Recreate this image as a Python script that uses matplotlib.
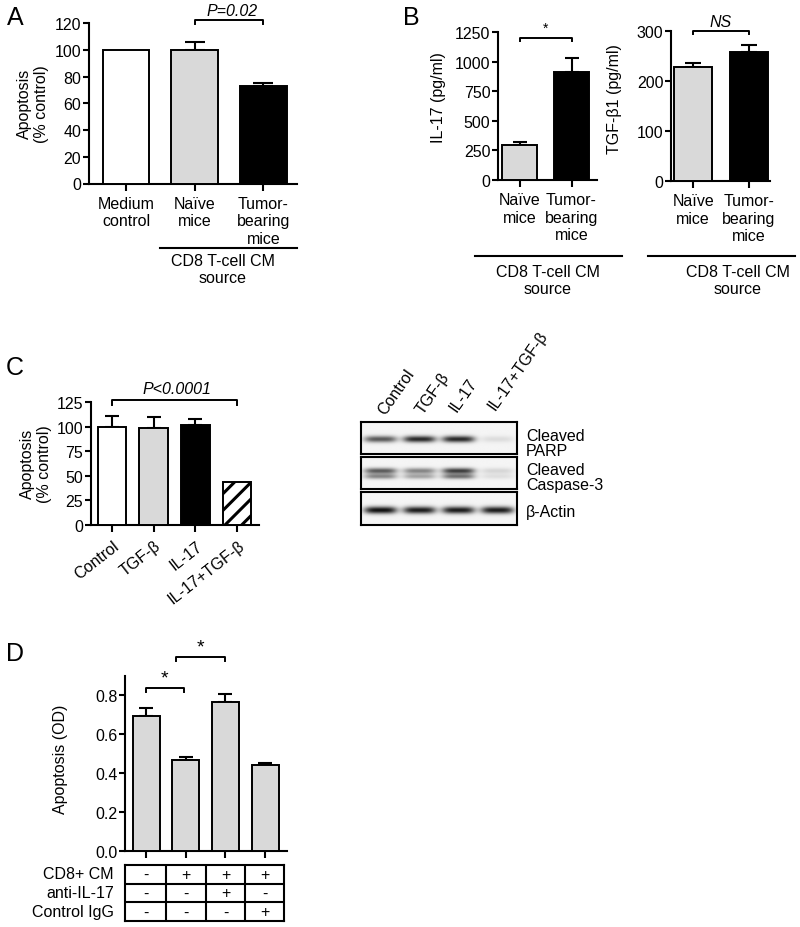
import numpy as np
import matplotlib
matplotlib.use('Agg')
import matplotlib.pyplot as plt
from matplotlib.transforms import ScaledTranslation

plt.rcParams['font.family'] = ['Liberation Sans', 'DejaVu Sans']
plt.rcParams['hatch.linewidth'] = 2.2

FS = 11.5

# ---------------- Data ----------------
a_categories = ['Medium\ncontrol', 'Naïve\nmice', 'Tumor-\nbearing\nmice']
a_values = [100, 100, 73]
a_errors = [0, 6, 2]

b_categories = ['Naïve\nmice', 'Tumor-\nbearing\nmice']
b_il17_values = [300, 910]
b_il17_errors = [20, 125]
b_tgf_values = [228, 258]
b_tgf_errors = [7, 13]

c_categories = ['Control', 'TGF-β', 'IL-17', 'IL-17+TGF-β']
c_values = [100, 99, 102, 44]
c_errors = [11, 11, 6, 0]

blot_lanes = ['Control', 'TGF-β', 'IL-17', 'IL-17+TGF-β']
blot_rows = ['Cleaved\nPARP', 'Cleaved\nCaspase-3', 'β-Actin']
parp_intensity = [0.65, 0.85, 0.85, 0.1]
casp3_intensity = [0.75, 0.55, 0.9, 0.15]
actin_intensity = [0.95, 0.9, 0.9, 0.9]

d_values = [0.692, 0.465, 0.766, 0.443]
d_errors = [0.043, 0.019, 0.041, 0.010]
d_row_labels = ['CD8+ CM', 'anti-IL-17', 'Control IgG']
d_table = [['-', '+', '+', '+'],
           ['-', '-', '+', '-'],
           ['-', '-', '-', '+']]

GRAY = '#d9d9d9'
W, H = 800, 928
fig = plt.figure(figsize=(8, 9.28), dpi=100)


def rect(l, t, r, b):
    return [l / W, 1 - b / H, (r - l) / W, (b - t) / H]


def ftext(x, y, s, **kw):
    kw.setdefault('fontsize', FS)
    kw.setdefault('ha', 'center')
    kw.setdefault('va', 'center')
    fig.text(x / W, 1 - y / H, s, **kw)


def fline(x0, x1, y, lw=1.5):
    fig.add_artist(plt.Line2D([x0 / W, x1 / W], [1 - y / H, 1 - y / H],
                              color='black', lw=lw))


def style(ax):
    for s in ['top', 'right']:
        ax.spines[s].set_visible(False)
    for s in ['left', 'bottom']:
        ax.spines[s].set_linewidth(1.5)
    ax.tick_params(axis='both', width=1.5, length=4, labelsize=FS, pad=1.5)
    ax.tick_params(axis='x', length=5, pad=4)


def bars(ax, values, errors, colors, capsize, hatches=None):
    x = np.arange(len(values))
    bs = ax.bar(x, values, width=0.68, color=colors, edgecolor='black',
                linewidth=1.4, zorder=3)
    if hatches:
        for b, h in zip(bs, hatches):
            if h:
                b.set_hatch(h)
    for xi, v, e in zip(x, values, errors):
        if e > 0:
            ax.errorbar([xi], [v], yerr=[[0], [e]], fmt='none', ecolor='black',
                        elinewidth=1.5, capsize=capsize, capthick=1.5, zorder=2)


def bracket(ax, x0, x1, y, drop):
    ax.plot([x0, x0, x1, x1], [y - drop, y, y, y - drop], color='black',
            lw=1.4, clip_on=False, zorder=4)


# ---------------- Panel A ----------------
axA = fig.add_axes(rect(89, 24, 297, 184.5))
style(axA)
bars(axA, a_values, a_errors, ['white', GRAY, 'black'], capsize=7)
axA.set_xlim(-0.54, 2.49)
axA.set_ylim(0, 120)
axA.set_yticks(range(0, 121, 20))
axA.set_xticks(range(3))
axA.set_xticklabels(a_categories, fontsize=FS)
bracket(axA, 1, 2, 122, 3)
axA.text(1.55, 123.5, 'P=0.02', style='italic', ha='center', va='bottom', fontsize=FS)
ftext(15, 18, 'A', fontsize=18)
ftext(33, 104, 'Apoptosis\n(% control)', rotation=90)
fline(160, 297, 249)
ftext(223, 270, 'CD8 T-cell CM\nsource')

# ---------------- Panel B ----------------
axB1 = fig.add_axes(rect(498, 33.3, 597, 181))
style(axB1)
bars(axB1, b_il17_values, b_il17_errors, [GRAY, 'black'], capsize=5)
axB1.set_xlim(-0.415, 1.49)
axB1.set_ylim(0, 1250)
axB1.set_yticks(range(0, 1251, 250))
axB1.set_xticks(range(2))
axB1.set_xticklabels(b_categories, fontsize=FS)
bracket(axB1, 0, 1, 1205, 30)
axB1.text(0.5, 1230, '*', ha='center', va='bottom', fontsize=10)
ftext(439, 98, 'IL-17 (pg/ml)', rotation=90)

axB2 = fig.add_axes(rect(671, 31.7, 770, 181.7))
style(axB2)
bars(axB2, b_tgf_values, b_tgf_errors, [GRAY, 'black'], capsize=6)
axB2.set_xlim(-0.4, 1.38)
axB2.set_ylim(0, 300)
axB2.set_yticks([0, 100, 200, 300])
axB2.set_xticks(range(2))
axB2.set_xticklabels(b_categories, fontsize=FS)
bracket(axB2, 0, 1, 300, 7)
axB2.text(0.5, 304, 'NS', style='italic', ha='center', va='bottom', fontsize=FS)
ftext(615, 99, 'TGF-β1 (pg/ml)', rotation=90)
ftext(411, 18, 'B', fontsize=18)
fline(475, 622, 257)
fline(648, 795, 257)
ftext(548, 281, 'CD8 T-cell CM\nsource')
ftext(738, 281, 'CD8 T-cell CM\nsource')

# ---------------- Panel C ----------------
axC = fig.add_axes(rect(91, 403.3, 259, 526))
style(axC)
bars(axC, c_values, c_errors, ['white', GRAY, 'black', 'white'], capsize=5,
     hatches=[None, None, None, '//'])
axC.set_xlim(-0.5, 3.52)
axC.set_ylim(0, 125)
axC.set_yticks(range(0, 126, 25))
axC.set_xticks(range(4))
axC.set_xticklabels(c_categories, fontsize=FS, rotation=38, ha='right',
                    va='center', rotation_mode='anchor')
off = ScaledTranslation(5 / 100, -6 / 100, fig.dpi_scale_trans)
for lab in axC.get_xticklabels():
    lab.set_transform(lab.get_transform() + off)
bracket(axC, 0, 3, 127.6, 5)
axC.text(1.55, 131, 'P<0.0001', style='italic', ha='center', va='bottom', fontsize=FS)
ftext(15, 368, 'C', fontsize=18)
ftext(36, 464, 'Apoptosis\n(% control)', rotation=90)

# ---------------- Western blot ----------------
xx = np.linspace(0, 4, 400)
yy = np.linspace(0, 1, 80)
XX, YY = np.meshgrid(xx, yy)


def lane_profile(intens):
    p = np.zeros_like(XX)
    for i, a in enumerate(intens):
        p += a * np.exp(-(np.abs(XX - (i + 0.5)) / 0.42) ** 4)
    return p


profiles = [
    lane_profile(parp_intensity) * np.exp(-((YY - 0.55) / 0.1) ** 2),
    lane_profile(casp3_intensity) * (0.85 * np.exp(-((YY - 0.45) / 0.09) ** 2)
                                     + 0.6 * np.exp(-((YY - 0.62) / 0.08) ** 2)),
    lane_profile(actin_intensity) * np.exp(-((YY - 0.55) / 0.11) ** 2),
]
boxes = [(422.7, 455), (457.7, 490), (493.3, 526)]
label_y = [444, 478, 512]
for prof, (t, b), lab, ly in zip(profiles, boxes, blot_rows, label_y):
    axw = fig.add_axes(rect(360.7, t, 516.7, b))
    img = np.clip(0.96 - 0.95 * prof, 0, 1)
    axw.imshow(img, cmap='gray', vmin=0, vmax=1, aspect='auto',
               extent=[0, 4, 1, 0], interpolation='bilinear')
    axw.set_xticks([])
    axw.set_yticks([])
    for s in axw.spines.values():
        s.set_linewidth(1.5)
    ftext(526, ly, lab, ha='left', fontsize=FS, linespacing=1.05)

lane_pos = [(385, 416), (423, 415), (457, 413), (495, 411)]
for (lx, ly), lab in zip(lane_pos, blot_lanes):
    ftext(lx, ly, lab, rotation=55, rotation_mode='anchor', ha='left',
          va='baseline', fontsize=FS)

# ---------------- Panel D ----------------
axD = fig.add_axes(rect(125, 676.9, 287.3, 851.7))
style(axD)
bars(axD, d_values, d_errors, [GRAY] * 4, capsize=5)
axD.set_xlim(-0.53, 3.56)
axD.set_ylim(0, 0.9)
axD.set_yticks([0, 0.2, 0.4, 0.6, 0.8])
axD.set_yticklabels(['0.0', '0.2', '0.4', '0.6', '0.8'])
axD.set_xticks(range(4))
axD.set_xticklabels([])
bracket(axD, 0, 0.95, 0.836, 0.02)
axD.text(0.47, 0.845, '*', ha='center', va='bottom', fontsize=14)
bracket(axD, 0.76, 2.0, 0.996, 0.02)
axD.text(1.38, 1.005, '*', ha='center', va='bottom', fontsize=14)
ftext(15, 654, 'D', fontsize=18)
ftext(61, 759, 'Apoptosis (OD)', rotation=90)

axT = fig.add_axes(rect(125, 865.7, 284.3, 922.3))
axT.set_xlim(-0.53, 3.48)
axT.set_ylim(3, 0)
axT.set_xticks([])
axT.set_yticks([])
for s in axT.spines.values():
    s.set_linewidth(1.5)
for r in [1, 2]:
    axT.plot([-0.53, 3.48], [r, r], color='black', lw=1.5)
for c in [0.5, 1.5, 2.5]:
    axT.plot([c, c], [0, 3], color='black', lw=1.5)
for r, row in enumerate(d_table):
    for c, val in enumerate(row):
        axT.text(c, r + 0.5, val, ha='center', va='center', fontsize=FS)
for r, lab in enumerate(d_row_labels):
    ftext(114, 875 + r * 19, lab, ha='right')

fig.savefig('out.png', dpi=100)
